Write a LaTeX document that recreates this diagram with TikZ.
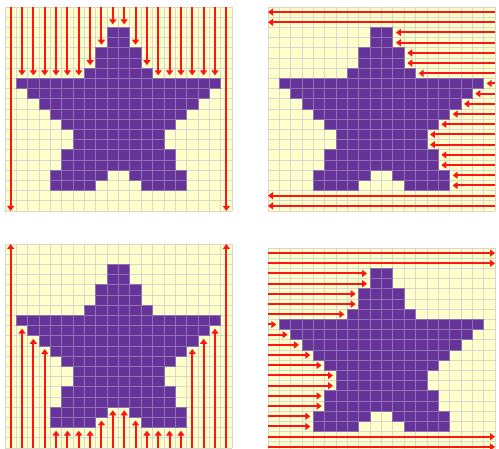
\documentclass[tikz,border=0pt]{standalone}
\usetikzlibrary{arrows.meta}

\definecolor{gridbg}{HTML}{FFFFCC}
\definecolor{gridline}{HTML}{D8D8CC}
\definecolor{starfill}{HTML}{663399}
\definecolor{starline}{HTML}{8E70B4}
\definecolor{rayred}{HTML}{FF1414}

\tikzset{
  cell/.style={fill=starfill, draw=starline, line width=0.8pt},
  ray/.style={rayred, line width=2pt, -{Triangle[length=5pt,width=7pt]}},
  panel/.style={x=11.35pt, y=-10.2pt},
}

% star rows: row/first column/last column
\newcommand\starrows{2/9/10,3/9/10,4/8/11,5/8/11,6/7/12,7/1/18,8/2/17,9/3/16,
  10/4/15,11/5/14,12/6/13,13/6/13,14/5/14,15/5/14,16/4/8,16/11/15,17/4/7,17/12/15}

% star outline per row: row/left edge/right edge (20/0 = free row)
\newcommand\staredges{0/20/0,1/20/0,2/9/11,3/9/11,4/8/12,5/8/12,6/7/13,7/1/19,
  8/2/18,9/3/17,10/4/16,11/5/15,12/6/14,13/6/14,14/5/15,15/5/15,16/4/16,17/4/16,
  18/20/0,19/20/0}

% star outline per column: column/top edge/bottom edge (20/0 = free column)
\newcommand\starcols{0/20/0,1/7/8,2/7/9,3/7/10,4/7/18,5/7/18,6/7/18,7/6/18,
  8/4/17,9/2/16,10/2/16,11/4/17,12/6/18,13/7/18,14/7/18,15/7/18,16/7/10,
  17/7/9,18/7/8,19/20/0}

% grid with the pixel star
\newcommand\starpanel{
  \fill[gridbg] (0,0) rectangle (20,20);
  \foreach \i in {0,...,20} {
    \draw[gridline, line width=0.8pt] (\i,0) -- (\i,20);
    \draw[gridline, line width=0.8pt] (0,\i) -- (20,\i);
  }
  \foreach \r/\a/\b in \starrows
    \foreach \c in {\a,...,\b}
      \draw[cell] (\c,\r) rectangle ++(1,1);
}

\begin{document}
\begin{tikzpicture}

\useasboundingbox (0,0) rectangle (499pt,-449pt);
\clip (0,0) rectangle (499pt,-449pt);

% Top left: rays from above
\begin{scope}[shift={(5pt,-7pt)}, panel]
\starpanel
\foreach \c/\t/\u in \starcols {
  \pgfmathsetmacro\e{\t==20 ? 20 : \t-0.3}
  \draw[ray] (\c+0.5,0) -- (\c+0.5,\e);
}
\end{scope}

% Top right: rays from the right
\begin{scope}[shift={(268pt,-7pt)}, panel]
\starpanel
\foreach \r/\a/\b in \staredges {
  \pgfmathsetmacro\e{\b==0 ? 0 : \b+0.27}
  \draw[ray] (20,\r+0.5) -- (\e,\r+0.5);
}
\end{scope}

% Bottom left: rays from below
\begin{scope}[shift={(5pt,-244pt)}, panel]
\starpanel
\foreach \c/\t/\u in \starcols {
  \pgfmathsetmacro\e{\u==0 ? 0 : \u+0.3}
  \draw[ray] (\c+0.5,20) -- (\c+0.5,\e);
}
\end{scope}

% Bottom right: rays from the left
\begin{scope}[shift={(268pt,-248pt)}, panel]
\starpanel
\foreach \r/\a/\b in \staredges {
  \pgfmathsetmacro\e{\a==20 ? 20 : \a-0.27}
  \draw[ray] (0,\r+0.5) -- (\e,\r+0.5);
}
\end{scope}

\end{tikzpicture}
\end{document}
